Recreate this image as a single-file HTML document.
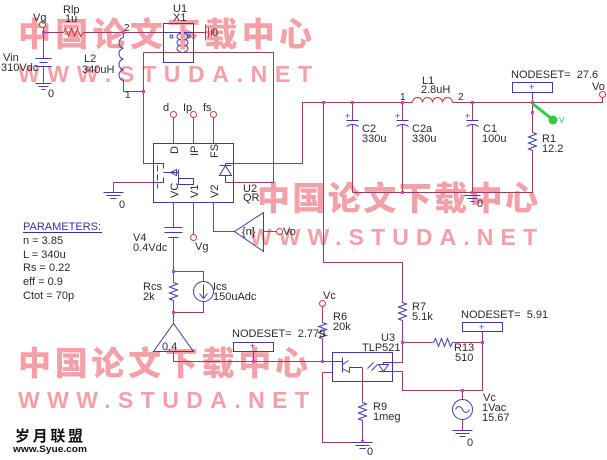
<!DOCTYPE html>
<html><head><meta charset="utf-8"><style>
html,body{margin:0;padding:0;background:#fff;}
svg{display:block;}
text{font-family:"Liberation Sans",Arial,sans-serif;font-size:11px;fill:#2a2a2a;}
.w{stroke:#9e3a66;stroke-width:1;fill:none;}
.p{stroke:#3c3caa;stroke-width:1;fill:none;}
.r{stroke:#c03838;stroke-width:1;fill:none;}
.pin{stroke:#d03c3c;fill:#fff;stroke-width:1;}
.j{fill:#cc44cc;}
.wm{font-family:"Noto Sans CJK SC","WenQuanYi Zen Hei",sans-serif;font-weight:900;font-size:33px;fill:#f3a0a8;}
.wm2{font-family:"Liberation Sans",sans-serif;font-weight:bold;font-size:23px;fill:#f3a0a8;}
.sm{font-size:9px;fill:#3c3caa;}
</style></head><body>
<svg width="607" height="460" viewBox="0 0 607 460" xmlns="http://www.w3.org/2000/svg">
<rect width="607" height="460" fill="#fff"/>
<!-- watermarks -->
<text class="wm" x="18" y="46" textLength="294" lengthAdjust="spacing">中国论文下载中心</text>
<text class="wm2" x="18" y="82" textLength="294" lengthAdjust="spacing">WWW.STUDA.NET</text>
<text class="wm" x="257" y="210" textLength="281" lengthAdjust="spacing">中国论文下载中心</text>
<text class="wm2" x="250" y="245" textLength="287" lengthAdjust="spacing">WWW.STUDA.NET</text>
<text class="wm" x="18" y="375" textLength="290" lengthAdjust="spacing">中国论文下载中心</text>
<text class="wm2" x="18" y="408" textLength="291" lengthAdjust="spacing">WWW.STUDA.NET</text>

<g transform="translate(.5,.5)">
<!-- input section -->
<path class="w" d="M43 27V32H63M83 32H163"/>
<path class="r" d="M63 32L65 28L68 36L71 28L74 36L77 28L80 36L83 32"/>
<path class="w" d="M43 32V58"/>
<path class="p" d="M35 58H51M39 62H47M35 66H51"/>
<path class="w" d="M43 66V83"/>
<path class="p" d="M35 83H51M38 86H48M41 89H45"/>
<circle class="pin" cx="42" cy="24" r="3"/>
<path class="w" d="M123 32V37"/>
<path class="p" d="M123 37A5 5.4 0 0 0 123 47.75A5 5.4 0 0 0 123 58.5A5 5.4 0 0 0 123 69.25A5 5.4 0 0 0 123 80"/>
<path class="w" d="M123 80V91H143"/>
<!-- U1 -->
<rect class="p" x="163" y="23" width="30" height="39"/>
<path class="p" d="M180 33A3.5 3 0 0 0 180 39A3.5 3 0 0 0 180 45A3.5 3 0 0 0 180 51M184 33A3.5 3 0 0 1 184 39A3.5 3 0 0 1 184 45A3.5 3 0 0 1 184 51M163 32H180V33M193 32H184V33"/>
<circle class="p" cx="171" cy="36" r="1.5"/><circle class="p" cx="188" cy="36" r="1.5"/>
<path class="w" d="M193 32H205"/>
<path class="r" d="M205 24V40M208 27V37M211 29V35"/>
<!-- drain / feedback loops -->
<path class="w" d="M143 52V163H153M143 52H273V182H233"/>
<path class="w" d="M233 163H302V102H412M452 102H602V97"/>
<path class="r" d="M412 102A5 5 0 0 1 422 102A5 5 0 0 1 432 102A5 5 0 0 1 442 102A5 5 0 0 1 452 102"/>
<circle class="pin" cx="602" cy="94" r="3"/>
<path class="w" d="M113 182H153M113 182V192"/>
<path class="p" d="M103 192H123M106 195H120M110 198H116"/>
<!-- U2 -->
<rect class="p" x="153" y="143" width="80" height="59"/>
<path class="w" d="M173 117V143M193 117V143M213 117V143"/>
<circle class="pin" cx="173" cy="114" r="3"/><circle class="pin" cx="193" cy="114" r="3"/><circle class="pin" cx="213" cy="114" r="3"/>
<path class="p" d="M153 163H163V168M157 165V171M157 174V180M157 183V188M153 182H163V177M163 172H178M178 169V178H193V184H178V178"/>
<path class="p" d="M170 172L176 169L176 175Z"/>
<path class="p" d="M225 163H233M225 182H233M225 163V165M219 165H231M219 175L231 175L225 165ZM225 175V182"/>
<!-- bottom of U2 -->
<path class="w" d="M173 202V227"/>
<path class="p" d="M164 227H182M164 232H182M168 237H178"/>
<path class="w" d="M173 237V282M173 300V323"/>
<path class="p" d="M173 282L177 283.5L169 286.5L177 289.5L169 292.5L177 295.5L169 298.5L173 300"/>
<path class="w" d="M173 271H203V281M203 301V312H173"/>
<circle class="p" cx="203" cy="291" r="10"/>
<path class="p" d="M203 284V297M199 293L203 298L207 293"/>
<path class="p" d="M173 323L193 351L153 351Z"/>
<path class="w" d="M173 351V361H332"/>
<path class="w" d="M193 202V234"/>
<circle class="pin" cx="193" cy="237" r="3"/>
<path class="w" d="M213 202V231H234"/>
<path class="p" d="M234 231L263 212L263 251Z"/>
<path class="r" d="M263 231H276"/>
<circle class="pin" cx="279" cy="231" r="3"/>
<rect class="p" x="233" y="342" width="40" height="9"/>
<path class="w" d="M253 351V361"/>
<!-- R6 / opto -->
<circle class="pin" cx="322" cy="303" r="3"/>
<path class="w" d="M322 306V322M322 338V361"/>
<path class="p" d="M322 322L326 323.5L318 326L326 329L318 332L326 335L318 337L322 338"/>
<path class="w" d="M322 372H332M322 372V442H362"/>
<rect class="p" x="332" y="352" width="60" height="29"/>
<path class="p" d="M332 361H342M342 357V372M342 364L348 360M342 368L349 372M349 372V367H362M367 368L373 362M371 370L377 364M378 364H388L383 371ZM378 371H388M383 364V362H392M383 371H392"/>
<path class="w" d="M362 367V402M362 420V441"/>
<path class="p" d="M362 402L366 403.5L358 406.5L366 409.5L358 412.5L366 415.5L358 418.5L362 420"/>
<path class="p" d="M352 442H372M355 445H369M359 448H365"/>
<path class="w" d="M323 102V262H402V302M402 320V362H392M392 371H402V390H482V342M402 342H433M452 342H482"/>
<path class="p" d="M402 302L406 303.5L398 306.5L406 309.5L398 312.5L406 315.5L398 318.5L402 320"/>
<path class="p" d="M433 342L435 338L438 346L441 338L444 346L447 338L450 346L452 342"/>
<rect class="p" x="462" y="322" width="40" height="9"/>
<path class="w" d="M482 331V342M462 390V399M462 419V430"/>
<circle class="p" cx="462" cy="409" r="10"/>
<path class="p" d="M455 409Q458.5 403 462 409T469 409"/>
<path class="p" d="M452 430H472M455 433H469M459 436H465"/>
<!-- output caps -->
<path class="w" d="M352 102V120M352 124V192M402 102V120M402 124V192M472 102V120M472 124V192M352 192H532V150M532 102V132M532 92V102"/>
<path class="p" d="M346 120H358M346 126Q352 122 358 126M396 120H408M396 126Q402 122 408 126M466 120H478M466 126Q472 122 478 126"/>
<path class="p" d="M532 132L536 133.5L528 136.5L536 139.5L528 142.5L536 145.5L528 148.5L532 150"/>
<path class="p" d="M464 195H480M467 198H477M470 201H474"/>
<rect class="p" x="512" y="82" width="40" height="10"/>
</g>
<!-- green probe -->
<path d="M533 104L552 119" stroke="#33cc44" stroke-width="3"/>
<circle cx="553" cy="120" r="4.5" fill="#33cc44"/>
<text x="559" y="123" style="font-size:8px;fill:#33cc44">V</text>
<!-- junctions -->
<g class="j">
<rect x="42" y="31" width="3" height="3"/><rect x="122" y="31" width="3" height="3"/><rect x="142" y="90" width="3" height="3"/>
<rect x="322" y="101" width="3" height="3"/><rect x="351" y="101" width="3" height="3"/><rect x="401" y="101" width="3" height="3"/>
<rect x="471" y="101" width="3" height="3"/><rect x="531" y="101" width="3" height="3"/><rect x="531" y="111" width="3" height="3"/>
<rect x="401" y="191" width="3" height="3"/><rect x="471" y="191" width="3" height="3"/>
<rect x="172" y="270" width="3" height="3"/><rect x="172" y="311" width="3" height="3"/><rect x="252" y="360" width="3" height="3"/>
<rect x="321" y="360" width="3" height="3"/><rect x="401" y="341" width="3" height="3"/><rect x="481" y="341" width="3" height="3"/>
<rect x="461" y="389" width="3" height="3"/><rect x="361" y="440" width="3" height="3"/>
</g>
<!-- plus signs -->
<text class="sm" x="529" y="90">+</text><text class="sm" x="250" y="349">+</text><text class="sm" x="479" y="330">+</text>
<text class="sm" x="345" y="119">+</text><text class="sm" x="395" y="119">+</text><text class="sm" x="465" y="119">+</text>
<!-- U2 pin labels -->
<g class="sm">
<text transform="translate(178,154) rotate(-90)">D</text>
<text transform="translate(198,156) rotate(-90)">IP</text>
<text transform="translate(218,158) rotate(-90)">FS</text>
<text transform="translate(178,198) rotate(-90)">VC</text>
<text transform="translate(198,198) rotate(-90)">V1</text>
<text transform="translate(218,198) rotate(-90)">V2</text>
</g>
<!-- labels -->
<text x="33" y="21">Vg</text>
<text x="63" y="13">Rlp</text>
<text x="65" y="22">1u</text>
<text x="124" y="31" style="font-size:10px">2</text>
<text x="3" y="61">Vin</text>
<text x="1" y="71">310Vdc</text>
<text x="84" y="62">L2</text>
<text x="82" y="73">340uH</text>
<text x="125" y="98" style="font-size:10px">1</text>
<text x="48" y="97">0</text>
<text x="173" y="12">U1</text>
<text x="173" y="21">X1</text>
<text x="212" y="36">0</text>
<text x="163" y="111">d</text>
<text x="183" y="111">Ip</text>
<text x="203" y="111">fs</text>
<text x="243" y="192">U2</text>
<text x="243" y="201">QR</text>
<text x="119" y="208">0</text>
<text x="133" y="241">V4</text>
<text x="133" y="251">0.4Vdc</text>
<text x="195" y="250">Vg</text>
<text x="242" y="235">{n}</text>
<text x="283" y="235">Vo</text>
<text x="23" y="230" style="fill:#33339a">PARAMETERS:</text>
<path d="M23 232.5H102" stroke="#33339a" stroke-width="1"/>
<text x="23" y="244">n = 3.85</text>
<text x="23" y="258">L = 340u</text>
<text x="23" y="271">Rs = 0.22</text>
<text x="23" y="285">eff = 0.9</text>
<text x="23" y="299">Ctot = 70p</text>
<text x="143" y="290">Rcs</text>
<text x="143" y="300">2k</text>
<text x="213" y="290">Ics</text>
<text x="213" y="300">150uAdc</text>
<text x="162" y="350">0.4</text>
<text x="232" y="337">NODESET=&#160; 2.779</text>
<text x="323" y="299">Vc</text>
<text x="333" y="320">R6</text>
<text x="333" y="330">20k</text>
<text x="381" y="341">U3</text>
<text x="362" y="351">TLP521</text>
<text x="412" y="310">R7</text>
<text x="412" y="320">5.1k</text>
<text x="373" y="410">R9</text>
<text x="373" y="420">1meg</text>
<text x="367" y="455">0</text>
<text x="454" y="351">R13</text>
<text x="455" y="361">510</text>
<text x="461" y="318">NODESET=&#160; 5.91</text>
<text x="483" y="401">Vc</text>
<text x="482" y="411">1Vac</text>
<text x="482" y="421">15.67</text>
<text x="467" y="446">0</text>
<text x="422" y="84">L1</text>
<text x="421" y="93">2.8uH</text>
<text x="400" y="100" style="font-size:10px">1</text>
<text x="458" y="100" style="font-size:10px">2</text>
<text x="511" y="78">NODESET=&#160; 27.6</text>
<text x="592" y="90">Vo</text>
<text x="362" y="132">C2</text>
<text x="362" y="142">330u</text>
<text x="412" y="132">C2a</text>
<text x="412" y="142">330u</text>
<text x="483" y="132">C1</text>
<text x="482" y="142">100u</text>
<text x="542" y="142">R1</text>
<text x="542" y="152">12.2</text>
<text x="477" y="207">0</text>
<!-- bottom-left logo -->
<text x="15" y="441" textLength="68" lengthAdjust="spacing" style="font-family:'Noto Sans CJK SC','WenQuanYi Zen Hei',sans-serif;font-size:15px;font-weight:bold;fill:#111">岁月联盟</text>
<text x="13" y="452" textLength="74" lengthAdjust="spacingAndGlyphs" style="font-size:9px;font-weight:bold;fill:#111">www.Syue.com</text>
</svg>
</body></html>
